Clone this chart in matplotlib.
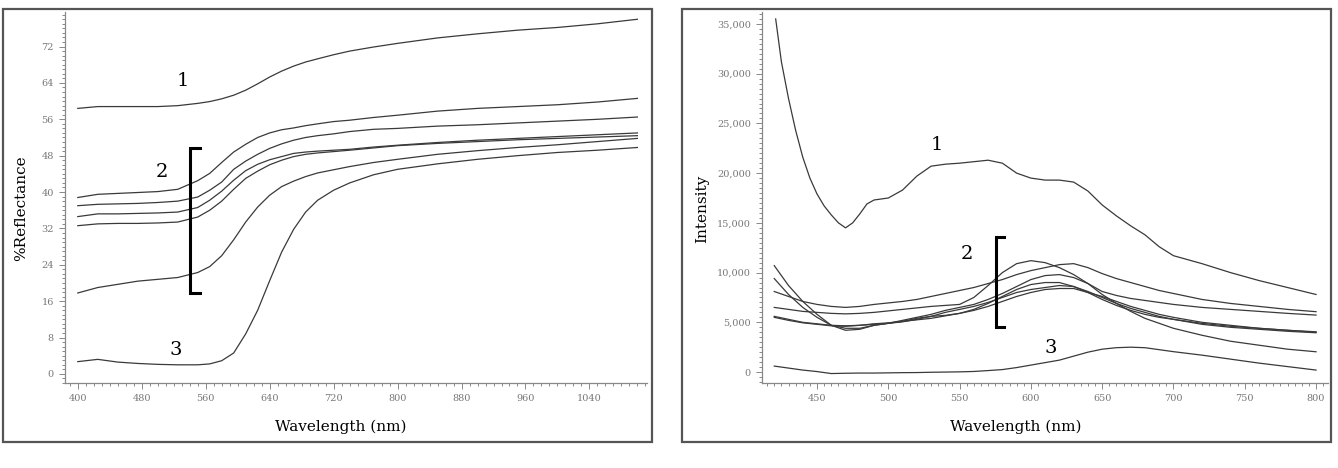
import matplotlib.pyplot as plt
from matplotlib.patches import Rectangle
from matplotlib.ticker import MultipleLocator, FuncFormatter

plt.rcParams['font.family'] = ['DejaVu Serif']

# Left panel: reflectance spectra
wl_refl = [400, 425, 450, 475, 500, 525, 550, 565, 580, 595, 610, 625, 640, 655,
           670, 685, 700, 720, 740, 770, 800, 850, 900, 950, 1000, 1050, 1100]
refl_1 = [58.4, 58.8, 58.8, 58.8, 58.8, 59.0, 59.5, 59.9, 60.5, 61.3, 62.4, 63.8, 65.3, 66.6,
          67.7, 68.6, 69.3, 70.2, 71.0, 71.9, 72.7, 73.9, 74.8, 75.6, 76.2, 77.0, 78.0]
refl_2a = [38.8, 39.5, 39.7, 39.9, 40.1, 40.6, 42.5, 44.1, 46.5, 48.8, 50.5, 52.0, 53.0, 53.7,
           54.1, 54.6, 55.0, 55.5, 55.8, 56.4, 56.9, 57.8, 58.4, 58.8, 59.2, 59.8, 60.6]
refl_2b = [37.0, 37.3, 37.4, 37.5, 37.7, 38.0, 38.9, 40.4, 42.2, 45.0, 46.8, 48.3, 49.6, 50.6,
           51.4, 52.0, 52.4, 52.8, 53.3, 53.8, 54.0, 54.5, 54.8, 55.2, 55.6, 56.0, 56.5]
refl_2c = [34.6, 35.2, 35.2, 35.3, 35.4, 35.6, 36.6, 38.2, 40.2, 42.6, 44.7, 46.1, 47.1, 47.8,
           48.5, 48.8, 49.0, 49.2, 49.4, 49.9, 50.3, 50.9, 51.4, 51.8, 52.2, 52.6, 53.0]
refl_2d = [32.6, 33.0, 33.1, 33.1, 33.2, 33.4, 34.5, 36.0, 38.0, 40.6, 43.0, 44.6, 46.0, 47.0,
           47.8, 48.3, 48.6, 48.9, 49.2, 49.7, 50.2, 50.7, 51.1, 51.5, 51.8, 52.1, 52.4]
refl_2e = [17.8, 19.0, 19.7, 20.4, 20.8, 21.2, 22.3, 23.6, 26.0, 29.5, 33.4, 36.7, 39.3, 41.2,
           42.4, 43.4, 44.2, 44.9, 45.6, 46.5, 47.2, 48.3, 49.1, 49.8, 50.4, 51.1, 51.8]
refl_3 = [2.7, 3.2, 2.6, 2.3, 2.1, 2.0, 2.0, 2.2, 2.9, 4.6, 8.8, 14.0, 20.5, 26.8,
          31.8, 35.6, 38.2, 40.4, 42.0, 43.8, 45.0, 46.2, 47.2, 48.0, 48.7, 49.2, 49.8]

# Right panel: fluorescence intensity
wl_int1 = [421, 425, 430, 435, 440, 445, 450, 455, 460, 465, 470, 475, 480, 485, 490, 500,
           510, 520, 530, 540, 550, 560, 570, 580, 590, 600, 610, 620, 630, 640, 650, 660,
           670, 680, 690, 700, 720, 740, 760, 780, 800]
int_1 = [35500, 31200, 27500, 24300, 21600, 19500, 17900, 16700, 15800, 15000, 14500, 15000,
         15900, 16900, 17300, 17500, 18300, 19700, 20700, 20900, 21000, 21150, 21300, 21000,
         20000, 19500, 19300, 19300, 19100, 18200, 16800, 15700, 14700, 13800, 12600, 11700,
         10900, 10000, 9200, 8500, 7800]

wl_int = [420, 430, 440, 450, 460, 470, 480, 490, 500, 510, 520, 530, 540, 550, 560, 570, 580,
          590, 600, 610, 620, 630, 640, 650, 660, 670, 680, 690, 700, 720, 740, 760, 780, 800]
int_2a = [10700, 8700, 7100, 5800, 4700, 4200, 4300, 4700, 4900, 5100, 5400, 5600, 5700, 5900,
          6300, 6900, 7600, 8300, 8800, 9000, 9000, 8600, 8000, 7300, 6700, 6200, 5800, 5500,
          5300, 4900, 4600, 4400, 4200, 4000]
int_2b = [9400, 7800, 6500, 5500, 4700, 4400, 4400, 4700, 4900, 5200, 5500, 5800, 6200, 6500,
          6800, 7300, 7900, 8600, 9300, 9700, 9800, 9500, 8900, 8100, 7700, 7400, 7200, 7000,
          6800, 6500, 6300, 6100, 5900, 5730]
int_2c = [8100, 7600, 7100, 6800, 6600, 6500, 6600, 6800, 6950, 7100, 7300, 7600, 7900, 8200,
          8500, 8900, 9300, 9800, 10200, 10500, 10800, 10900, 10500, 9900, 9400, 9000, 8600,
          8200, 7900, 7300, 6900, 6600, 6300, 6070]
int_2d = [6500, 6300, 6100, 6000, 5900, 5850, 5900, 6000, 6150, 6300, 6450, 6600, 6700, 6800,
          7500, 8700, 10000, 10900, 11200, 11000, 10500, 9800, 8900, 7800, 6900, 6100, 5400,
          4900, 4400, 3700, 3100, 2700, 2300, 2040]
int_2e = [5600, 5300, 5000, 4850, 4700, 4650, 4700, 4800, 4900, 5050, 5300, 5600, 6000, 6300,
          6600, 7000, 7500, 8000, 8300, 8500, 8700, 8600, 8100, 7500, 6900, 6400, 6000, 5600,
          5300, 4800, 4500, 4300, 4100, 3950]
int_2f = [5500, 5200, 4950, 4800, 4650, 4600, 4700, 4850, 4950, 5100, 5250, 5400, 5650, 5900,
          6200, 6600, 7100, 7600, 8000, 8300, 8400, 8400, 8000, 7600, 7100, 6600, 6200, 5800,
          5500, 5000, 4700, 4400, 4200, 4050]
int_3 = [600, 400, 200, 50, -150, -120, -100, -100, -80, -60, -50, -20, 0, 20, 60, 150, 250,
         450, 700, 950, 1200, 1600, 2000, 2300, 2450, 2500, 2450, 2250, 2050, 1700, 1300, 900,
         550, 200]

W, H = 1338, 468
fig = plt.figure(figsize=(W / 100, H / 100), dpi=100)

line_color = '#3a3a3a'
tick_gray = '#777777'


def style_axes(ax):
    ax.spines['top'].set_visible(False)
    ax.spines['right'].set_visible(False)
    for s in ['left', 'bottom']:
        ax.spines[s].set_color('#888888')
        ax.spines[s].set_linewidth(0.9)
    ax.tick_params(which='both', direction='out', color='#888888', labelcolor=tick_gray,
                   labelsize=7, width=0.7)
    ax.tick_params(which='major', length=4.5)
    ax.tick_params(which='minor', length=2.2)


# frames around each panel
for x0, x1 in [(3, 652), (682, 1331)]:
    fig.add_artist(Rectangle((x0 / W, 1 - 442 / H), (x1 - x0) / W, (442 - 9) / H,
                             transform=fig.transFigure, fill=False, lw=1.6, ec='#555555'))

# ---- left panel
ax1 = fig.add_axes([65 / W, 1 - 383 / H, (647 - 65) / W, (383 - 12) / H])
for ys in [refl_1, refl_2a, refl_2b, refl_2c, refl_2d, refl_2e, refl_3]:
    ax1.plot(wl_refl, ys, color=line_color, lw=0.9)
ax1.set_xlim(384, 1112)
ax1.set_ylim(-2, 79.6)
ax1.xaxis.set_minor_locator(MultipleLocator(10))
ax1.yaxis.set_major_locator(MultipleLocator(8))
ax1.yaxis.set_minor_locator(MultipleLocator(1))
ax1.set_xticks(range(400, 1041, 80))
style_axes(ax1)
ax1.set_xlabel('Wavelength (nm)', fontsize=11)
ax1.set_ylabel('%Reflectance', fontsize=11)
ax1.xaxis.set_label_coords(0.474, -0.098)
ax1.yaxis.set_label_coords(-0.064, 0.47)

# bracket for group 2
ax1.plot([552.5, 540, 540, 552.5], [49.7, 49.7, 17.8, 17.8], color='black', lw=2.2,
         solid_joinstyle='miter')
ax1.text(531, 64.4, '1', fontsize=14, ha='center', va='center')
ax1.text(505, 44.4, '2', fontsize=14, ha='center', va='center')
ax1.text(522, 5.3, '3', fontsize=14, ha='center', va='center')

# ---- right panel
ax2 = fig.add_axes([762 / W, 1 - 383 / H, (1328 - 762) / W, (383 - 12) / H])
ax2.plot(wl_int1, int_1, color=line_color, lw=0.9)
for ys in [int_2a, int_2b, int_2c, int_2d, int_2e, int_2f, int_3]:
    ax2.plot(wl_int, ys, color=line_color, lw=0.9)
ax2.set_xlim(411.4, 808.4)
ax2.set_ylim(-1100, 36200)
ax2.xaxis.set_major_locator(MultipleLocator(50))
ax2.xaxis.set_minor_locator(MultipleLocator(5))
ax2.yaxis.set_major_locator(MultipleLocator(5000))
ax2.yaxis.set_minor_locator(MultipleLocator(500))
ax2.yaxis.set_major_formatter(FuncFormatter(lambda v, p: f'{int(v):,}'))
style_axes(ax2)
ax2.set_xlabel('Wavelength (nm)', fontsize=11)
ax2.set_ylabel('Intensity', fontsize=11)
ax2.xaxis.set_label_coords(0.449, -0.098)
ax2.yaxis.set_label_coords(-0.093, 0.47)

ax2.plot([581, 575.5, 575.5, 581], [13600, 13600, 4560, 4560], color='black', lw=2.2,
         solid_joinstyle='miter')
ax2.text(534, 22840, '1', fontsize=14, ha='center', va='center')
ax2.text(555, 11870, '2', fontsize=14, ha='center', va='center')
ax2.text(614, 2410, '3', fontsize=14, ha='center', va='center')

fig.savefig('out.png', dpi=100)
